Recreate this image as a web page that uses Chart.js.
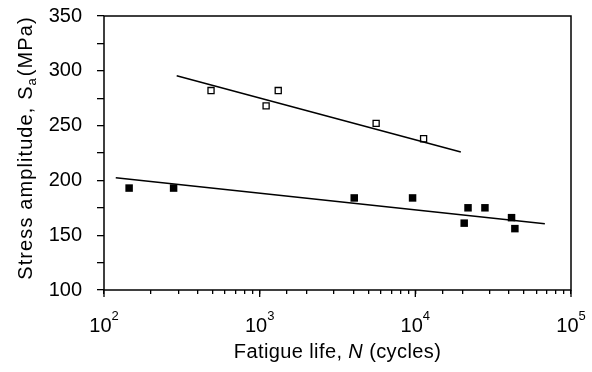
<!DOCTYPE html>
<html>
<head>
<meta charset="utf-8">
<script src="https://cdn.jsdelivr.net/npm/chart.js@4"></script>
<style>
 html,body{margin:0;padding:0;background:#fff}
 #wrap{width:592px;height:372px}
</style>
</head>
<body>
<div id="wrap"><canvas id="chart" width="592" height="372"></canvas></div>
<script>
/* ===== DATA ===== */
const openN=[487,1100,1316,5600,11300]
const openS=[282,268,282,252,238]
const fillN=[145,280,4050,9600,20600,21800,28000,41500,43600]
const fillS=[193,193,184,184,161,175,175,166,156]
const fitUpN=[293,19600]
const fitUpS=[295.5,226]
const fitLoN=[119,67900]
const fitLoS=[202.5,160.5]
const yTicks=[100,150,200,250,300,350]
const xTicks=[100,1000,10000,100000]

const FONT="'Liberation Sans', Arial, sans-serif"
const pts=(xs,ys)=>xs.map((x,i)=>({x,y:ys[i]}))

/* ===== TITLES, DECADE LABELS, BOX ===== */
function drawParts(ctx,parts,x,y){
 let w=0
 parts.forEach(p=>{ctx.font=p[1];ctx.letterSpacing=p[3]||"0px";w+=ctx.measureText(p[0]).width})
 x-=w/2
 parts.forEach(p=>{ctx.font=p[1];ctx.letterSpacing=p[3]||"0px";ctx.fillText(p[0],x,y+p[2]);x+=ctx.measureText(p[0]).width})
}

const deco={
 id:"deco",
 afterDraw(c){
  const ctx=c.ctx,a=c.chartArea,sx=c.scales.x
  ctx.save()
  ctx.strokeStyle="#000";ctx.lineWidth=1.5
  ctx.strokeRect(a.left,a.top,a.right-a.left,a.bottom-a.top)

  // longer decade ticks + labels
  ctx.fillStyle="#000";ctx.textBaseline="alphabetic";ctx.lineWidth=1.3
  xTicks.forEach(v=>{
   const px=sx.getPixelForValue(v)
   ctx.beginPath();ctx.moveTo(px,a.bottom);ctx.lineTo(px,a.bottom+7);ctx.stroke()
   drawParts(ctx,[["10","20px "+FONT,0],[String(Math.round(Math.log10(v))),"13px "+FONT,-12.5]],px,a.bottom+42)
  })

  // x title
  drawParts(ctx,[["Fatigue life, ","20px "+FONT,0,"0.4px"],["N","italic 20px "+FONT,0,"0.4px"],[" (cycles)","20px "+FONT,0,"0.4px"]],(a.left+a.right)/2,358)

  // y title
  ctx.translate(32,148)
  ctx.rotate(-Math.PI/2)
  drawParts(ctx,[["Stress amplitude, S","20px "+FONT,0,"1.1px"],["a","13px "+FONT,4,"2px"],["(MPa)","20px "+FONT,0,"1.1px"]],0,0)
  ctx.restore()
 }
}

/* ===== CHART ===== */
new Chart(document.getElementById("chart"),{
 type:"scatter",
 data:{datasets:[
  {data:pts(fitUpN,fitUpS),showLine:true,borderColor:"#000",borderWidth:1.5,pointRadius:0},
  {data:pts(fitLoN,fitLoS),showLine:true,borderColor:"#000",borderWidth:1.5,pointRadius:0},
  {data:pts(openN,openS),pointStyle:"rect",pointRadius:4.3,backgroundColor:"#fff",borderColor:"#000",borderWidth:1.3},
  {data:pts(fillN,fillS),pointStyle:"rect",pointRadius:5.3,backgroundColor:"#000",borderColor:"#000",borderWidth:0}
 ]},
 options:{
  responsive:false,animation:false,
  layout:{padding:{left:0,right:21,top:16,bottom:0}},
  plugins:{legend:{display:false},tooltip:{enabled:false}},
  scales:{
   x:{
    type:"logarithmic",min:100,max:100000,
    grid:{drawOnChartArea:false,drawTicks:true,tickLength:4,color:"#000",lineWidth:1.3},
    border:{display:false},
    ticks:{color:"#000",font:{family:FONT,size:20},autoSkip:false,maxRotation:0,callback:()=>""},
    afterFit:s=>{s.height=82;s.paddingLeft=0;s.paddingRight=0}
   },
   y:{
    min:100,max:350,
    grid:{drawOnChartArea:false,drawTicks:true,tickLength:7,color:"#000",lineWidth:1.3},
    border:{display:false},
    ticks:{stepSize:25,color:"#000",font:{family:FONT,size:20},padding:15,
     callback:v=>yTicks.includes(v)?String(v):""},
    afterFit:s=>{s.width=104;s.paddingTop=0;s.paddingBottom=0}
   }
  }
 },
 plugins:[deco]
})
</script>
</body>
</html>
